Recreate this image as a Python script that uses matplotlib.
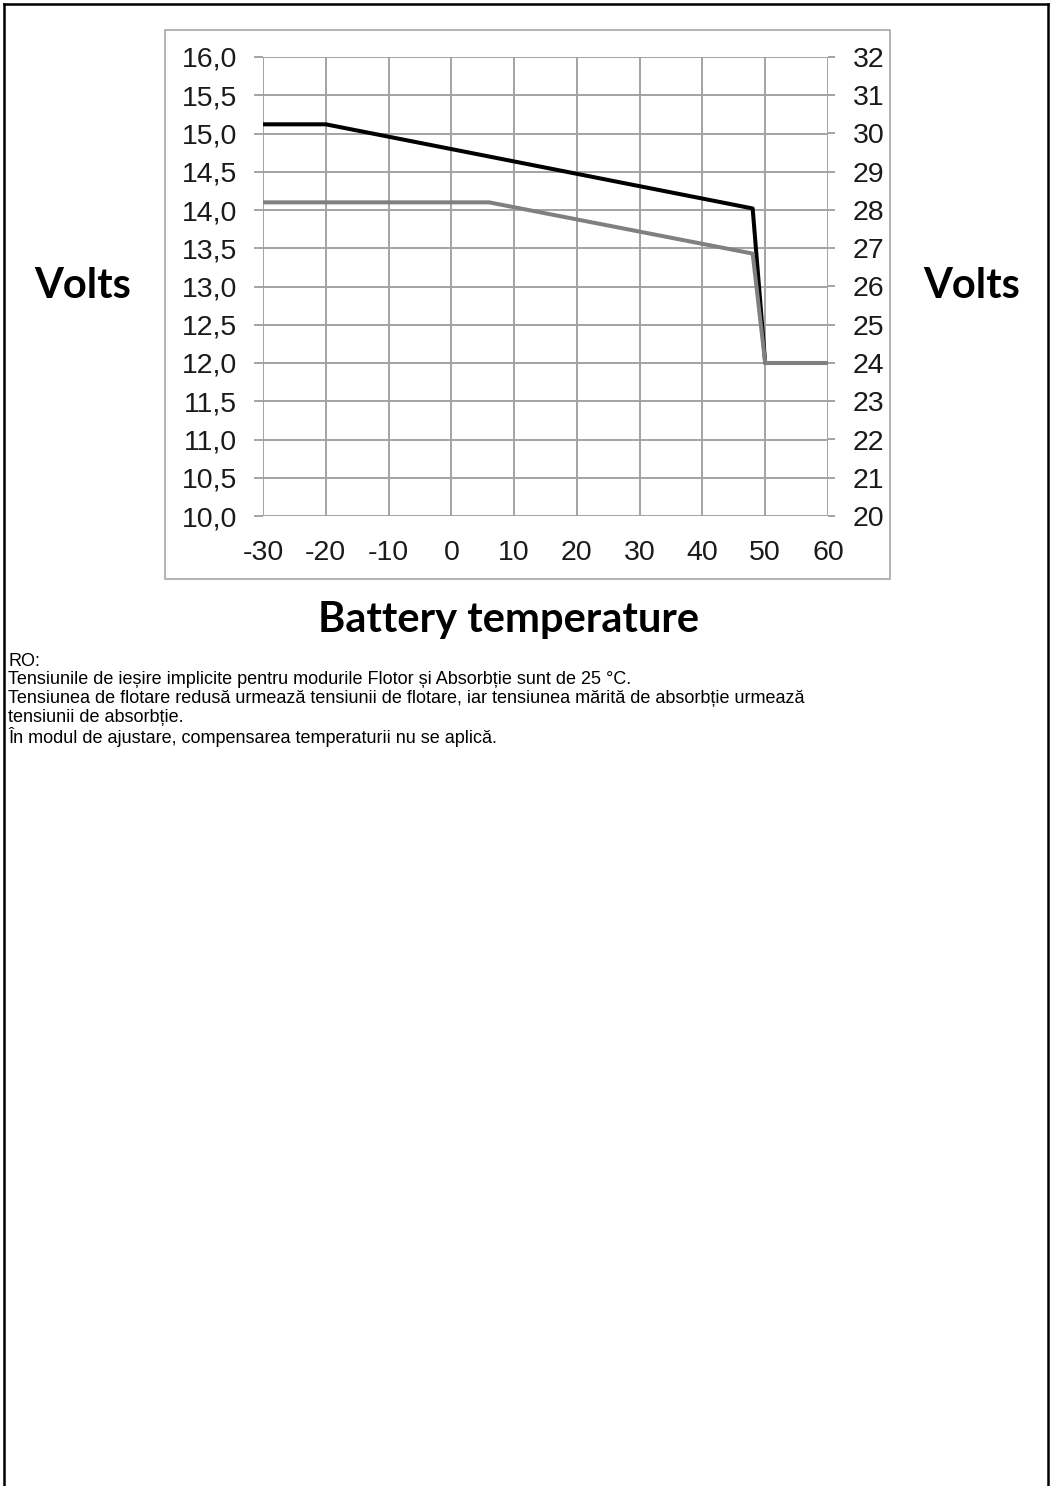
import matplotlib
matplotlib.use("Agg")
import matplotlib.pyplot as plt
from matplotlib.lines import Line2D
from matplotlib.patches import Rectangle

# data
absorption_temp = [-30, -20, 48, 50, 60]
absorption_volts = [15.12, 15.12, 14.02, 12.0, 12.0]
float_temp = [-30, 6, 48, 50, 60]
float_volts = [14.1, 14.1, 13.43, 12.0, 12.0]

x_ticks = [-30, -20, -10, 0, 10, 20, 30, 40, 50, 60]
y12_ticks = [10.0, 10.5, 11.0, 11.5, 12.0, 12.5, 13.0, 13.5, 14.0, 14.5, 15.0, 15.5, 16.0]
y24_ticks = [20, 21, 22, 23, 24, 25, 26, 27, 28, 29, 30, 31, 32]
y12_labels = ["10,0", "10,5", "11,0", "11,5", "12,0", "12,5", "13,0",
              "13,5", "14,0", "14,5", "15,0", "15,5", "16,0"]

notes = [
    "RO:",
    "Tensiunile de ieșire implicite pentru modurile Flotor și Absorbție sunt de 25 °C.",
    "Tensiunea de flotare redusă urmează tensiunii de flotare, iar tensiunea mărită de absorbție urmează",
    "tensiunii de absorbție.",
    "În modul de ajustare, compensarea temperaturii nu se aplică.",
]

W, H = 1052, 1486
fig = plt.figure(figsize=(W / 100, H / 100), dpi=100)


def fx(px):
    return px / W


def fy(py):
    return 1 - py / H


grid_col = "#a3a3a3"
tick_font = "Liberation Sans"
title_font = "Lato"

# outer page frame (no bottom edge)
fig.add_artist(Line2D([fx(4), fx(4)], [fy(4), 0], color="black", lw=1.8))
fig.add_artist(Line2D([fx(4), fx(1048)], [fy(4), fy(4)], color="black", lw=1.8))
fig.add_artist(Line2D([fx(1048), fx(1048)], [fy(4), 0], color="black", lw=1.8))

# chart area box
fig.add_artist(Rectangle((fx(165), fy(579)), fx(890) - fx(165), fy(30) - fy(579),
                         fill=False, edgecolor="#a8a8a8", lw=1.2))

ax = fig.add_axes([fx(263), fy(516), fx(828) - fx(263), fy(57) - fy(516)])
ax.plot(absorption_temp, absorption_volts, color="black", lw=2.9, zorder=3)
ax.plot(float_temp, float_volts, color="#808080", lw=2.9, zorder=4)

ax.set_xlim(-30, 60)
ax.set_ylim(10, 16)
ax.set_xticks(x_ticks)
ax.set_xticklabels([str(t) for t in x_ticks])
ax.set_yticks(y12_ticks)
ax.set_yticklabels(y12_labels)
ax.grid(True, color=grid_col, lw=1.4)
for s in ax.spines.values():
    s.set_visible(False)
ax.tick_params(axis="y", length=6.5, width=1.4, color=grid_col, pad=12,
               labelsize=20.5)
ax.tick_params(axis="x", length=0, pad=17, labelsize=20.5)
for lab in ax.get_xticklabels() + ax.get_yticklabels():
    lab.set_fontfamily(tick_font)
    lab.set_color("#1a1a1a")

ax2 = ax.twinx()
ax2.set_ylim(20, 32)
ax2.set_yticks(y24_ticks)
ax2.set_yticklabels([str(t) for t in y24_ticks])
for s in ax2.spines.values():
    s.set_visible(False)
ax2.tick_params(axis="y", length=5, width=1.4, color=grid_col, pad=13,
                labelsize=20.5)
for lab in ax2.get_yticklabels():
    lab.set_fontfamily(tick_font)
    lab.set_color("#1a1a1a")

fig.text(fx(83), fy(286), "Volts", fontsize=30, fontweight="bold",
         family=title_font, ha="center", va="center")
fig.text(fx(972), fy(286), "Volts", fontsize=30, fontweight="bold",
         family=title_font, ha="center", va="center")
fig.text(fx(509), fy(620), "Battery temperature", fontsize=30, fontweight="bold",
         family=title_font, ha="center", va="center")

for i, line in enumerate(notes):
    fig.text(fx(8), fy(661 + 19 * i), line, fontsize=13, family=tick_font,
             ha="left", va="center")

fig.savefig("out.png", dpi=100)
